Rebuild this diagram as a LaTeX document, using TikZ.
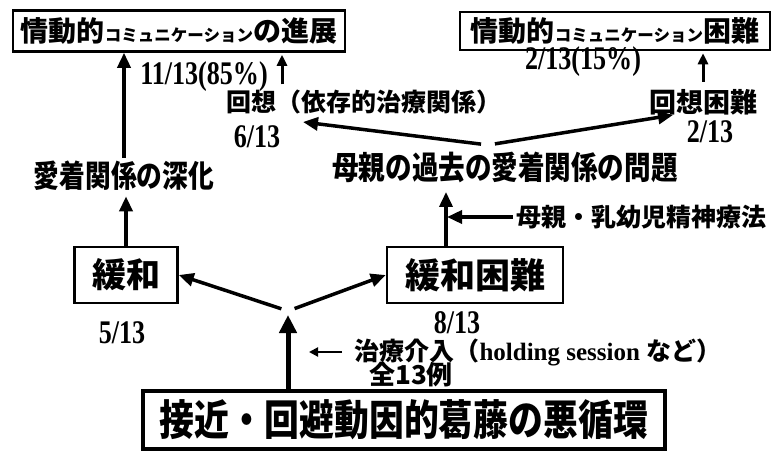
\documentclass[tikz,border=0pt]{standalone}
\usepackage{fontspec}
\usetikzlibrary{arrows.meta}
\newfontfamily\jp{Noto Sans CJK JP}
\newfontfamily\jpc{Noto Sans CJK JP}[FakeStretch=0.83]
\newfontfamily\nm{Liberation Serif}[FakeStretch=0.79]
\newfontfamily\sr{Liberation Serif}
\newcommand\fsz[1]{\fontsize{#1}{#1}\selectfont}
\tikzset{
  box/.style={draw, line width=2.5pt, inner sep=0pt},
  num/.style={font=\nm\bfseries\fsz{33}},
  jt/.style={font=\jp\bfseries\fsz{#1}},
  jtc/.style={font=\jpc\bfseries\fsz{#1}},
  arr/.style={line width=3.5pt, -{Triangle[length=15pt,width=13pt]}},
  barr/.style={line width=5pt, -{Triangle[length=18pt,width=17pt]}},
  sarr/.style={line width=3pt, -{Triangle[length=11pt,width=10pt]}},
  tarr/.style={line width=2pt, -{Triangle[length=9pt,width=9pt]}},
}
\begin{document}
\begin{tikzpicture}[x=1pt,y=-1pt]
\fill[white] (0,0) rectangle (781,452);
\useasboundingbox (0,0) rectangle (781,452);

% top boxes
\node[box, minimum width=332pt, minimum height=41pt, jt=28] (prog) at (179,31)
  {情動的{\fsz{16.5}コミュニケーション}の進展};
\node[box, minimum width=310pt, minimum height=38pt, jt=28] (diff) at (615,31)
  {情動的{\fsz{16.5}コミュニケーション}困難};

\node[num] (p85) at (204,77) {11/13(85\%)};
\node[num] (p15) at (583,62) {2/13(15\%)};

\node[jt=25] (recall) at (364,102) {回想（依存的治療関係）};
\node[num] (n6) at (257,137) {6/13};
\node[jt=27] (recalld) at (703,102) {回想困難};
\node[num] (n2) at (710,132) {2/13};

\node[jtc=31] (deep) at (124,176) {愛着関係の深化};
\node[jtc=32] (mother) at (505,167) {母親の過去の愛着関係の問題};
\node[jt=25, anchor=west] (mit) at (513,217) {母親・乳幼児精神療法};

\node[box, minimum width=103pt, minimum height=56pt, jt=34] (kanwa) at (126,275) {緩和};
\node[box, minimum width=176pt, minimum height=56pt, jt=35] (kanwad) at (475,275) {緩和困難};
\node[num] (n5) at (122,333) {5/13};
\node[num] (n8) at (457,323) {8/13};

\node[jt=25, anchor=west] (interv) at (351,352) {治療介入（{\sr\bfseries holding session }など）};
\node[jt=26] (all) at (411,375) {全13例};

\node[box, line width=4pt, minimum width=522pt, minimum height=58pt, jtc=42] (cycle) at (404,420)
  {接近・回避動因的葛藤の悪循環};

% coordinates
\coordinate (fork) at (288,311);
\coordinate (fork2) at (488,145);
\coordinate (tipL) at (303,122);
\coordinate (tipR) at (673,115);
\coordinate (mx) at (446,0);
\coordinate (ax) at (282,0);

% connectors
\draw[arr] (deep.north) -- (deep.north |- prog.south);
\draw[arr, shorten >=2pt] (kanwa.north) -- (kanwa.north |- deep.south);
\draw[barr, shorten >=4pt] (cycle.north -| fork) -- (fork);
\draw[arr, shorten <=7pt] (fork) -- (kanwa.east);
\draw[arr, shorten <=7pt] (fork) -- (kanwad.west);
\draw[arr, shorten >=6pt] (kanwad.north -| mx) -- (mother.south -| mx);
\draw[arr, shorten >=1pt] (mit.west) -- (mit.west -| mx);
\draw[arr, shorten <=7pt] (fork2) -- (tipL);
\draw[arr, shorten <=7pt] (fork2) -- (tipR);
\draw[sarr, shorten <=4pt, shorten >=2pt] (recalld.north) -- (recalld.north |- diff.south);
\draw[sarr, shorten <=2pt, shorten >=2pt] (recall.north -| ax) -- (prog.south -| ax);
\draw[tarr] ([xshift=-9pt]interv.west) -- ([xshift=-42pt]interv.west);
\end{tikzpicture}
\end{document}
